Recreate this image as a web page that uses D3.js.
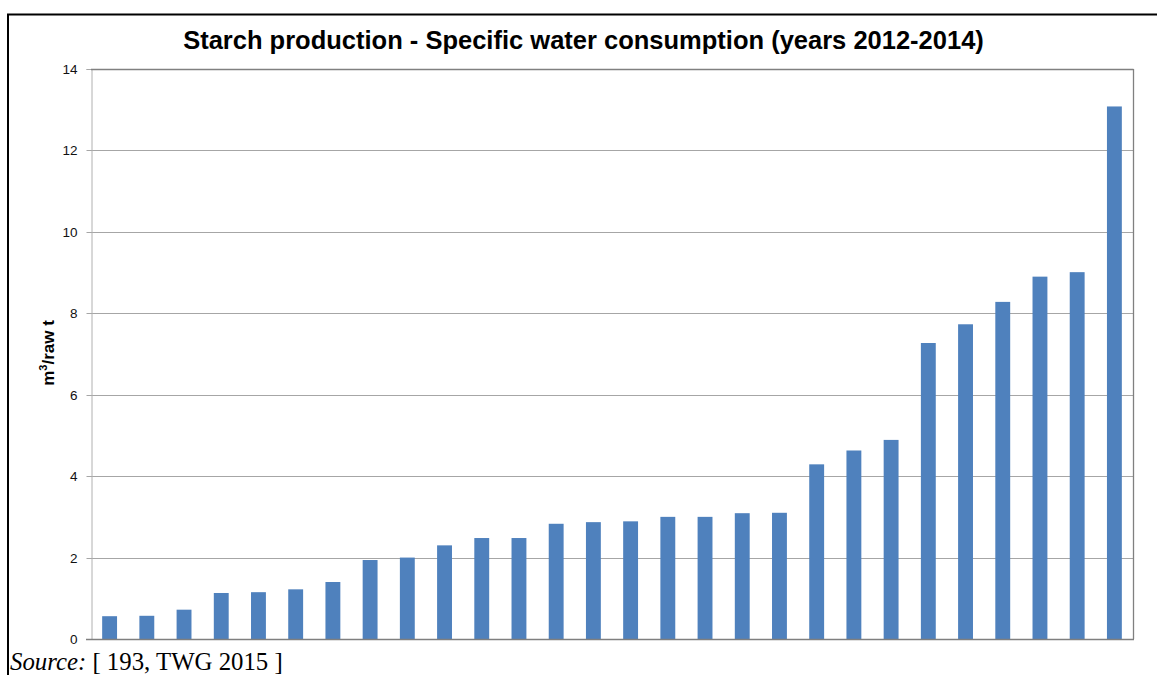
<!DOCTYPE html>
<html>
<head>
<meta charset="utf-8">
<script src="https://cdn.jsdelivr.net/npm/d3@7"></script>
<style>
  html, body { margin: 0; padding: 0; background: #fff; }
  svg { display: block; }
</style>
</head>
<body>
<svg id="chart" width="1157" height="675"></svg>
<script>
const titleText = "Starch production - Specific water consumption (years 2012-2014)";
const yLabelMain = "m";
const yLabelSup = "3";
const yLabelRest = "/raw t";
const categories = d3.range(1, 29).map(String);
const values = [0.56, 0.57, 0.72, 1.13, 1.15, 1.22, 1.40, 1.94, 2.00, 2.30, 2.48, 2.48, 2.83, 2.87, 2.89, 3.00, 3.00, 3.09, 3.10, 4.29, 4.63, 4.89, 7.27, 7.73, 8.28, 8.90, 9.01, 13.08];
const yTicks = [0, 2, 4, 6, 8, 10, 12, 14];
const sourceItalic = "Source:";
const sourceRest = " [ 193, TWG 2015 ]";

const svg = d3.select("#chart");
const plot = { left: 91, right: 1133, top: 69, bottom: 639 };

// outer frame
svg.append("rect").attr("x", 8).attr("y", 14.5).attr("width", 1200).attr("height", 700)
  .attr("fill", "none").attr("stroke", "#000").attr("stroke-width", 2);

const x = d3.scaleBand().domain(categories).range([plot.left, plot.right]).paddingInner(0.6).paddingOuter(0.3);
const y = d3.scaleLinear().domain([0, 14]).range([plot.bottom, plot.top]);

// gridlines
svg.append("g").selectAll("line").data(yTicks.filter(d => d > 0 && d < 14)).join("line")
  .attr("x1", plot.left).attr("x2", plot.right)
  .attr("y1", d => Math.round(y(d)) + 0.5).attr("y2", d => Math.round(y(d)) + 0.5)
  .attr("stroke", "#a6a6a6").attr("stroke-width", 1);

// y axis
const yAxis = d3.axisLeft(y).tickValues(yTicks).tickSize(5).tickPadding(9).tickFormat(d3.format("d"));
const yg = svg.append("g").attr("transform", `translate(${plot.left + 0.5},0)`).call(yAxis);
yg.select(".domain").attr("stroke", "#b0b0b0");
yg.selectAll(".tick line").attr("stroke", "#a6a6a6");
yg.selectAll(".tick text").attr("font-family", "Liberation Sans, Arial, sans-serif").attr("font-size", 13.5).attr("fill", "#111");
yg.selectAll(".tick").attr("transform", d => `translate(0,${Math.round(y(d)) + 0.5})`);

// bars
svg.append("g").selectAll("rect").data(values).join("rect")
  .attr("x", (d, i) => x(categories[i]))
  .attr("width", x.bandwidth())
  .attr("y", d => y(d))
  .attr("height", d => y(0) - y(d))
  .attr("fill", "#4f81bd");

// plot border: top and right darker, bottom axis
svg.append("line").attr("x1", plot.left).attr("x2", plot.right + 0.5).attr("y1", plot.top + 0.5).attr("y2", plot.top + 0.5)
  .attr("stroke", "#808080").attr("stroke-width", 1.3);
svg.append("line").attr("x1", plot.right + 0.5).attr("x2", plot.right + 0.5).attr("y1", plot.top).attr("y2", plot.bottom)
  .attr("stroke", "#808080").attr("stroke-width", 1.3);
svg.append("line").attr("x1", plot.left - 5).attr("x2", plot.right + 1).attr("y1", plot.bottom + 0.5).attr("y2", plot.bottom + 0.5)
  .attr("stroke", "#7f7f7f").attr("stroke-width", 1.5);

// title
svg.append("text").attr("x", (181 + 986) / 2).attr("y", 49).attr("text-anchor", "middle")
  .attr("font-family", "Liberation Sans, Arial, sans-serif").attr("font-weight", "bold").attr("font-size", 25.5)
  .attr("fill", "#000").text(titleText);

// y label
const yl = svg.append("text").attr("transform", "translate(54,353) rotate(-90)").attr("text-anchor", "middle")
  .attr("font-family", "Liberation Sans, Arial, sans-serif").attr("font-weight", "bold").attr("font-size", 17).attr("fill", "#000");
yl.append("tspan").text(yLabelMain);
yl.append("tspan").attr("dy", -7).attr("font-size", 11).text(yLabelSup);
yl.append("tspan").attr("dy", 7).text(yLabelRest);

// source
const src = svg.append("text").attr("x", 10).attr("y", 670)
  .attr("font-family", "Liberation Serif, Times New Roman, serif").attr("font-size", 24.8).attr("fill", "#000");
src.append("tspan").attr("font-style", "italic").text(sourceItalic);
src.append("tspan").text(sourceRest);
</script>
</body>
</html>
